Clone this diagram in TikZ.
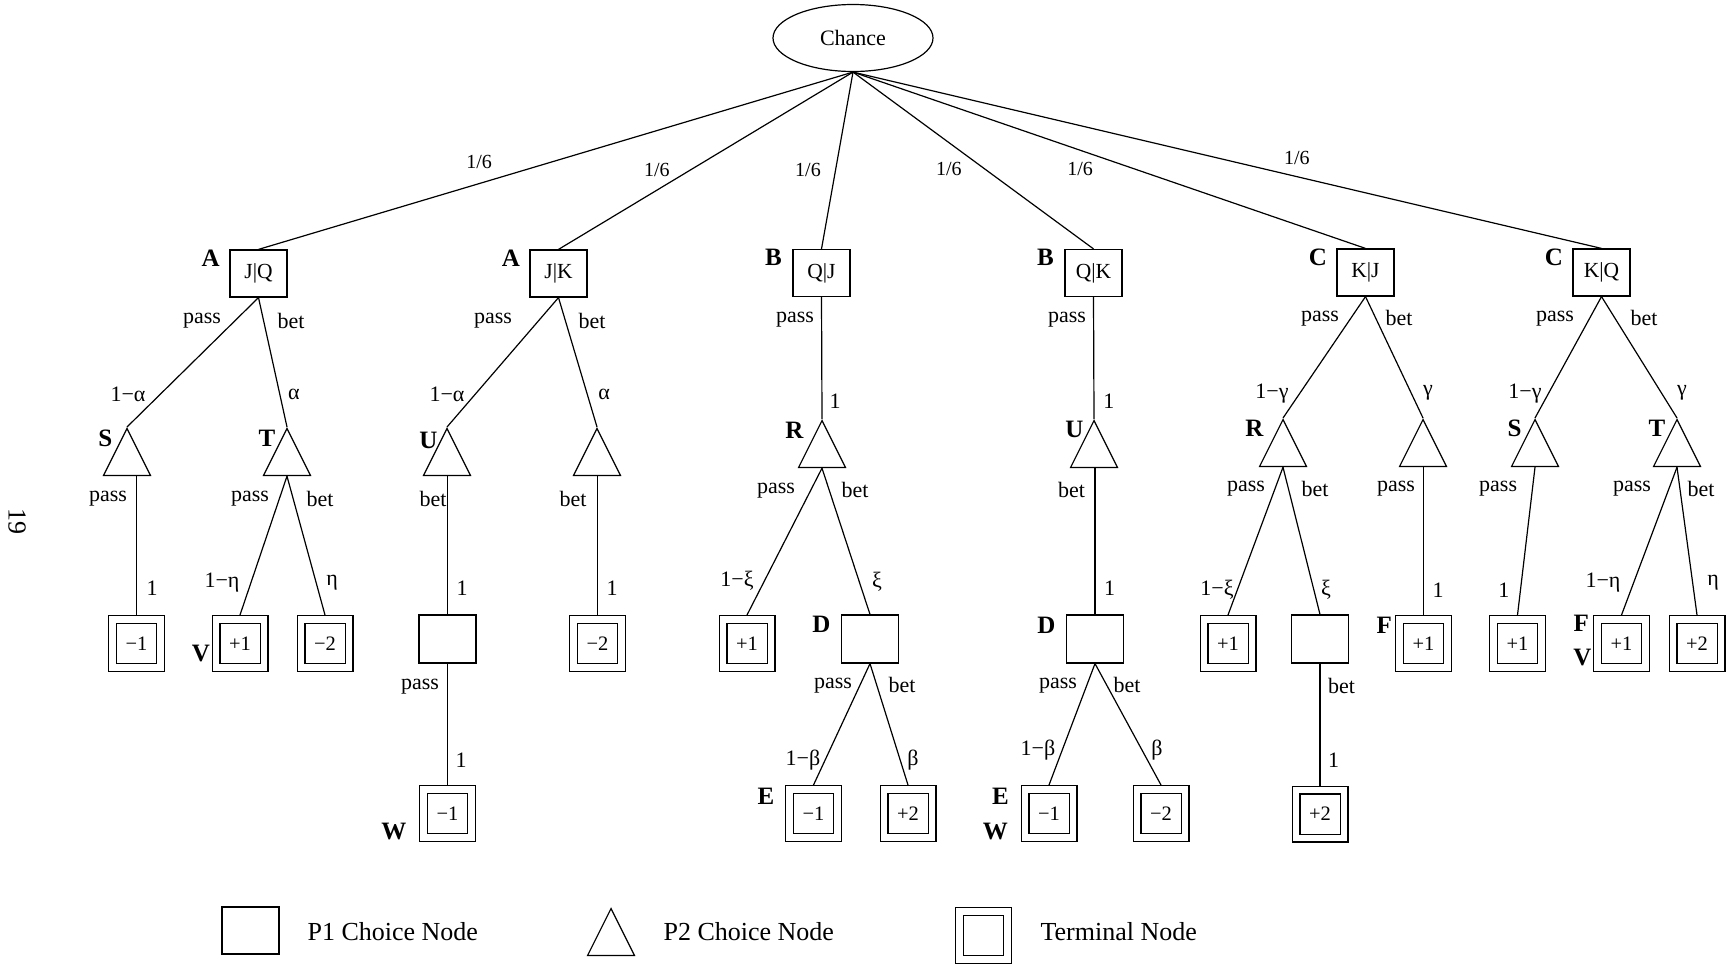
\documentclass[tikz,border=0pt]{standalone}
\usepackage{fontspec}
\setmainfont{Liberation Serif}
\usepackage{tikz}
\usetikzlibrary{shapes.geometric, positioning}

\begin{document}
\begin{tikzpicture}[
	% Picture Styling
	x=1pt, y=-1pt, line width=1.2pt,
	chance/.style={draw, ellipse, minimum width=160pt, minimum height=67pt, inner sep=0pt, font=\fontsize{22}{26}\selectfont},
	pone/.style={draw, rectangle, minimum width=57pt, minimum height=47pt, inner sep=0pt, font=\fontsize{21.5}{26}\selectfont},
	ptwo/.style={draw, isosceles triangle, shape border rotate=90, isosceles triangle stretches=true, minimum width=47pt, minimum height=47pt, inner sep=0pt, anchor=apex},
	term/.style={draw, rectangle, double, double distance=6.6pt, outer sep=4.5pt, minimum width=48pt, minimum height=48pt, inner sep=0pt, font=\fontsize{20.5}{24}\selectfont},
	tag/.style={inner sep=0pt, font=\fontsize{25}{30}\selectfont\bfseries},
	lbl/.style={inner sep=0pt, font=\fontsize{22}{26}\selectfont},
	prob/.style={inner sep=0pt, font=\fontsize{20}{24}\selectfont},
	legend/.style={inner sep=0pt, font=\fontsize{26}{30}\selectfont}
]
\useasboundingbox (0,0) rectangle (1732,964);

% Chance and the six deals
\node[chance] (chance) at (853,38) {Chance};
\node[pone] (jq) at (258.5,273.5) {J|Q};
\node[pone] (jk) at (558.5,273.5) {J|K};
\node[pone] (qj) at (821.5,273) {Q|J};
\node[pone] (qk) at (1093.5,273) {Q|K};
\node[pone] (kj) at (1365.5,272.5) {K|J};
\node[pone] (kq) at (1601.5,272.5) {K|Q};
\node[tag, left=9pt of jq.north west, anchor=north east] (tagjq) {A};
\node[tag, left=9pt of jk.north west, anchor=north east] (tagjk) {A};
\node[tag, left=10pt of qj.north west, anchor=north east] (tagqj) {B};
\node[tag, left=10pt of qk.north west, anchor=north east] (tagqk) {B};
\node[tag, left=9pt of kj.north west, anchor=north east] (tagkj) {C};
\node[tag, left=9pt of kq.north west, anchor=north east] (tagkq) {C};

% P2 choices
\node[ptwo] (jqp) at (127,427) {};
\node[ptwo] (jqb) at (287,427) {};
\node[ptwo] (jkp) at (447,427) {};
\node[ptwo] (jkb) at (597,427) {};
\node[ptwo] (qjp) at (822,419) {};
\node[ptwo] (qkp) at (1094,419) {};
\node[ptwo] (kjp) at (1283,418) {};
\node[ptwo] (kjb) at (1423,418) {};
\node[ptwo] (kqp) at (1535,418) {};
\node[ptwo] (kqb) at (1677,418) {};
\node[tag, left=14pt of jqp.apex, anchor=north east, yshift=-2.5pt] (tagjqp) {S};
\node[tag, left=11pt of jqb.apex, anchor=north east, yshift=-2.5pt] (tagjqb) {T};
\node[tag, left=9pt of jkp.apex, anchor=north east, yshift=-4.5pt] (tagjkp) {U};
\node[tag, left=18pt of qjp.apex, anchor=north east, yshift=-2.5pt] (tagqjp) {R};
\node[tag, left=10pt of qkp.apex, anchor=north east, yshift=-1.5pt] (tagqkp) {U};
\node[tag, left=19pt of kjp.apex, anchor=north east, yshift=-1.5pt] (tagkjp) {R};
\node[tag, left=13pt of kqp.apex, anchor=north east, yshift=-1.5pt] (tagkqp) {S};
\node[tag, left=11pt of kqb.apex, anchor=north east, yshift=-1.5pt] (tagkqb) {T};

% Third level
\node[term] (jqpp) at (136.5,643.5) {−1};
\node[term] (jqbp) at (240,643.5) {+1};
\node[term] (jqbb) at (325,643.5) {−2};
\node[pone, minimum height=48pt] (jkpb) at (447.5,639) {};
\node[term] (jkbb) at (597.5,643.5) {−2};
\node[term] (qjpp) at (747,643.5) {+1};
\node[pone, minimum height=48pt] (qjpb) at (870,639) {};
\node[pone, minimum height=48pt] (qkpb) at (1095,639) {};
\node[term] (kjpp) at (1228,643.5) {+1};
\node[pone, minimum height=48pt] (kjpb) at (1320,639) {};
\node[term] (kjbp) at (1423.5,643.5) {+1};
\node[term] (kqpp) at (1517.5,643.5) {+1};
\node[term] (kqbp) at (1621.5,643.5) {+1};
\node[term] (kqbb) at (1697,643.5) {+2};
\node[tag, left=1pt of jqbp.west, anchor=east, yshift=-9.5pt] (tagjqbp) {V};
\node[tag, left=10pt of qjpb.north west, anchor=north east, yshift=-1.5pt] (tagqjpb) {D};
\node[tag, left=10pt of qkpb.north west, anchor=north east, yshift=-2.5pt] (tagqkpb) {D};
\node[tag, left=2.5pt of kjbp.north west, anchor=north east, yshift=-1.5pt] (tagkjbp) {F};
\node[tag, left=3.5pt of kqbp.north west, anchor=north east] (tagkqbf) {F};
\node[tag, left=1pt of kqbp.west, anchor=east, yshift=-13.5pt] (tagkqbv) {V};

% Fourth level
\node[term] (jkpbp) at (447.5,813.5) {−1};
\node[term] (qjpbp) at (813.5,813.5) {−1};
\node[term] (qjpbb) at (908,813.5) {+2};
\node[term] (qkpbp) at (1049,813.5) {−1};
\node[term] (qkpbb) at (1161,813.5) {−2};
\node[term] (kjpbb) at (1320,814) {+2};
\node[tag, left=12pt of jkpbp.south west, anchor=south east, yshift=1.5pt] (tagjkpbp) {W};
\node[tag, left=10pt of qjpbp.north west, anchor=north east, yshift=-3pt] (tagqjpbp) {E};
\node[tag, left=11pt of qkpbp.north west, anchor=north east, yshift=-3pt] (tagqkpbe) {E};
\node[tag, left=12pt of qkpbp.south west, anchor=south east, yshift=1.5pt] (tagqkpbw) {W};

% Deal branches
\draw (chance.south) -- node[prob, pos=.629, yshift=21.5pt] {1/6} (jq.north);
\draw (chance.south) -- node[prob, pos=.666, yshift=20pt] {1/6} (jk.north);
\draw (chance.south) -- node[prob, pos=.553, xshift=-27.6pt] {1/6} (qj.north);
\draw (chance.south) -- node[prob, pos=.548, xshift=-36pt] {1/6} (qk.north);
\draw (chance.south) -- node[prob, pos=.443, yshift=-18.7pt] {1/6} (kj.north);
\draw (chance.south) -- node[prob, pos=.593, yshift=19pt] {1/6} (kq.north);

% First moves
\draw (jq.south) -- node[lbl, pos=.177, xshift=-33.2pt] {pass} node[lbl, pos=.746, xshift=-32.4pt] {1−α} (jqp.apex);
\draw (jq.south) -- node[lbl, pos=.177, xshift=27.5pt] {bet} node[lbl, pos=.746, xshift=14.2pt] {α} (jqb.apex);
\draw (jk.south) -- node[lbl, pos=.177, xshift=-45.8pt] {pass} node[lbl, pos=.746, xshift=-28.3pt] {1−α} (jkp.apex);
\draw (jk.south) -- node[lbl, pos=.177, xshift=26.7pt] {bet} node[lbl, pos=.746, xshift=16.8pt] {α} (jkb.apex);
\draw (qj.south) -- node[lbl, pos=.187, xshift=-26.6pt] {pass} node[lbl, pos=.854, xshift=13.1pt] {1} (qjp.apex);
\draw (qk.south) -- node[lbl, pos=.187, xshift=-26.5pt] {pass} node[lbl, pos=.854, xshift=15pt] {1} (qkp.apex);
\draw (kj.south) -- node[lbl, pos=.18, xshift=-30.6pt] {pass} node[lbl, pos=.795, xshift=-27.9pt] {1−γ} (kjp.apex);
\draw (kj.south) -- node[lbl, pos=.18, xshift=23.1pt] {bet} node[lbl, pos=.795, xshift=16.8pt] {γ} (kjb.apex);
\draw (kq.south) -- node[lbl, pos=.18, xshift=-34.5pt] {pass} node[lbl, pos=.795, xshift=-23.6pt] {1−γ} (kqp.apex);
\draw (kq.south) -- node[lbl, pos=.18, xshift=28.9pt] {bet} node[lbl, pos=.795, xshift=20.5pt] {γ} (kqb.apex);

% Second moves
\draw (jqp.lower side -| jqpp.north) -- node[lbl, pos=.163, xshift=-28.5pt] {pass} node[lbl, pos=.809, xshift=15.5pt] {1} (jqpp.north);
\draw (jqb.lower side) -- node[lbl, pos=.163, xshift=-29.3pt] {pass} node[lbl, pos=.766, xshift=-29pt] {1−η} (jqbp.north);
\draw (jqb.lower side) -- node[lbl, pos=.163, xshift=26.8pt] {bet} node[lbl, pos=.766, xshift=15.9pt] {η} (jqbb.north);
\draw (jkp.lower side -| jkpb.north) -- node[lbl, pos=.163, xshift=-14.5pt] {bet} node[lbl, pos=.809, xshift=14.5pt] {1} (jkpb.north);
\draw (jkb.lower side -| jkbb.north) -- node[lbl, pos=.163, xshift=-24.5pt] {bet} node[lbl, pos=.809, xshift=14.5pt] {1} (jkbb.north);
\draw (qjp.lower side) -- node[lbl, pos=.153, xshift=-34.5pt] {pass} node[lbl, pos=.767, xshift=-27.5pt] {1−ξ} (qjpp.north);
\draw (qjp.lower side) -- node[lbl, pos=.147, xshift=26pt] {bet} node[lbl, pos=.78, xshift=17.6pt] {ξ} (qjpb.north);
\draw (qkp.lower side -| qkpb.north) -- node[lbl, pos=.147, xshift=-23.5pt] {bet} node[lbl, pos=.82, xshift=14.5pt] {1} (qkpb.north);
\draw (kjp.lower side) -- node[lbl, pos=.147, xshift=-28.9pt] {pass} node[lbl, pos=.827, xshift=-20.5pt] {1−ξ} (kjpp.north);
\draw (kjp.lower side) -- node[lbl, pos=.147, xshift=26.6pt] {bet} node[lbl, pos=.833, xshift=12.2pt] {ξ} (kjpb.north);
\draw (kjb.lower side -| kjbp.north) -- node[lbl, pos=.147, xshift=-27.5pt] {pass} node[lbl, pos=.833, xshift=14.5pt] {1} (kjbp.north);
\draw (kqp.lower side) -- node[lbl, pos=.147, xshift=-34.3pt] {pass} node[lbl, pos=.833, xshift=-16.6pt] {1} (kqpp.north);
\draw (kqb.lower side) -- node[lbl, pos=.147, xshift=-36.8pt] {pass} node[lbl, pos=.78, xshift=-30.7pt] {1−η} (kqbp.north);
\draw (kqb.lower side) -- node[lbl, pos=.147, xshift=21.1pt] {bet} node[lbl, pos=.78, xshift=20.4pt] {η} (kqbb.north);

% Third moves
\draw (jkpb.south) -- node[lbl, pos=.189, xshift=-27.5pt] {pass} node[lbl, pos=.795, xshift=13.5pt] {1} (jkpbp.north);
\draw (qjpb.south) -- node[lbl, pos=.18, xshift=-26.8pt] {pass} node[lbl, pos=.795, xshift=-22.1pt] {1−β} (qjpbp.north);
\draw (qjpb.south) -- node[lbl, pos=.18, xshift=25.2pt] {bet} node[lbl, pos=.795, xshift=12.8pt] {β} (qjpbb.north);
\draw (qkpb.south) -- node[lbl, pos=.18, xshift=-28.7pt] {pass} node[lbl, pos=.713, xshift=-24.2pt] {1−β} (qkpbp.north);
\draw (qkpb.south) -- node[lbl, pos=.18, xshift=20.1pt] {bet} node[lbl, pos=.713, xshift=14.9pt] {β} (qkpbb.north);
\draw (kjpb.south) -- node[lbl, pos=.18, xshift=21.5pt] {bet} node[lbl, pos=.795, xshift=13.5pt] {1} (kjpbb.north);

% Legend
\node[pone] (keyone) at (250.5,930.5) {};
\node[legend, anchor=west] (keyonetext) at (307,932) {P1 Choice Node};
\node[ptwo] (keytwo) at (611,907) {};
\node[legend, anchor=west] (keytwotext) at (663,932) {P2 Choice Node};
\node[term] (keyterm) at (983.5,935.5) {};
\node[legend, anchor=west] (keytermtext) at (1040,932) {Terminal Node};

% Page number
\node[legend, rotate=-90] (pagenum) at (17,521) {19};
\end{tikzpicture}
\end{document}
